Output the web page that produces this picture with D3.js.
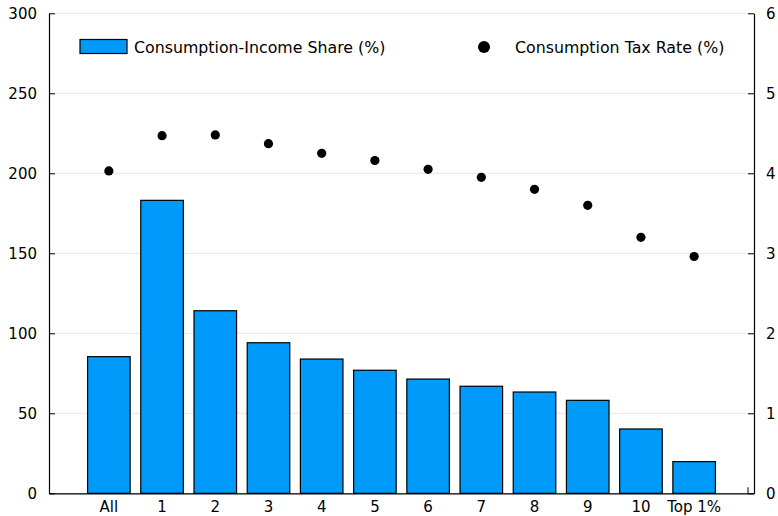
<!DOCTYPE html>
<html>
<head>
<meta charset="utf-8">
<script src="https://cdn.jsdelivr.net/npm/d3@7"></script>
<style>
  body { margin: 0; background: #fff; }
  text { font-family: 'DejaVu Sans', sans-serif; }
</style>
</head>
<body>
<div id="chart"></div>
<script>
var groups = ['All', '1', '2', '3', '4', '5', '6', '7', '8', '9', '10', 'Top 1%']
var shareValues = [85.4, 183.1, 114.1, 94.1, 83.9, 76.9, 71.4, 66.9, 63.3, 58.1, 40.2, 19.8]
var taxValues = [4.03, 4.47, 4.48, 4.37, 4.25, 4.16, 4.05, 3.95, 3.8, 3.6, 3.2, 2.96]
var leftTicks = [0, 50, 100, 150, 200, 250, 300]
var rightTicks = [0, 1, 2, 3, 4, 5, 6]

var width = 778
var height = 516
var margin = { top: 13.3, left: 49, right: 24, bottom: 22.7 }

var svg = d3
  .select('#chart')
  .append('svg')
  .attr('width', width)
  .attr('height', height)

var x0 = margin.left
var x1 = width - margin.right
var yTop = margin.top
var yBottom = height - margin.bottom

var xScale = d3
  .scaleBand()
  .domain(groups)
  .range([x0, x1])
  .paddingInner(0.2)
  .paddingOuter(0.725)

var yLeft = d3.scaleLinear().domain([0, 300]).range([yBottom, yTop])
var yRight = d3.scaleLinear().domain([0, 6]).range([yBottom, yTop])

// grid lines
svg
  .selectAll('.grid')
  .data(leftTicks)
  .enter()
  .append('line')
  .attr('class', 'grid')
  .attr('x1', x0)
  .attr('x2', x1)
  .attr('y1', d => yLeft(d))
  .attr('y2', d => yLeft(d))
  .attr('stroke', '#000')
  .attr('stroke-opacity', 0.1)
  .attr('stroke-width', 1)

// bars
svg
  .selectAll('.bar')
  .data(shareValues)
  .enter()
  .append('rect')
  .attr('class', 'bar')
  .attr('x', (d, i) => xScale(groups[i]))
  .attr('width', xScale.bandwidth())
  .attr('y', d => yLeft(d))
  .attr('height', d => yLeft(0) - yLeft(d))
  .attr('fill', '#009afa')
  .attr('stroke', '#000')
  .attr('stroke-width', 1.2)

// dots
svg
  .selectAll('.dot')
  .data(taxValues)
  .enter()
  .append('circle')
  .attr('class', 'dot')
  .attr('cx', (d, i) => xScale(groups[i]) + xScale.bandwidth() / 2)
  .attr('cy', d => yRight(d))
  .attr('r', 4.6)
  .attr('fill', '#000')

// axes
var leftAxis = d3
  .axisLeft(yLeft)
  .tickValues(leftTicks)
  .tickFormat(d3.format('d'))
  .tickSizeInner(-6)
  .tickSizeOuter(0)
  .tickPadding(12)

var rightAxis = d3
  .axisRight(yRight)
  .tickValues(rightTicks)
  .tickFormat(d3.format('d'))
  .tickSizeInner(-6)
  .tickSizeOuter(0)
  .tickPadding(12)

var bottomAxis = d3
  .axisBottom(xScale)
  .tickSize(0)
  .tickPadding(8)

var gLeft = svg
  .append('g')
  .attr('transform', 'translate(' + x0 + ',0)')
  .call(leftAxis)

var gRight = svg
  .append('g')
  .attr('transform', 'translate(' + x1 + ',0)')
  .call(rightAxis)

var gBottom = svg
  .append('g')
  .attr('transform', 'translate(0,' + yBottom + ')')
  .call(bottomAxis)

;[gLeft, gRight, gBottom].forEach(g => {
  g.selectAll('text')
    .attr('font-family', "'DejaVu Sans', sans-serif")
    .attr('font-size', 15)
    .attr('fill', '#000')
  g.selectAll('line').attr('stroke', '#000').attr('stroke-width', 1)
  g.select('.domain').attr('stroke', '#000').attr('stroke-width', 1.2)
})

gLeft.selectAll('text').attr('dy', '0.36em')
gRight.selectAll('text').attr('dy', '0.36em')

// little end mark on x axis
svg
  .append('line')
  .attr('x1', x1 - 6)
  .attr('x2', x1 - 6)
  .attr('y1', yBottom)
  .attr('y2', yBottom - 6)
  .attr('stroke', '#000')

// legend
var legend = svg.append('g')

legend
  .append('rect')
  .attr('x', 80)
  .attr('y', 39.5)
  .attr('width', 47)
  .attr('height', 14)
  .attr('fill', '#009afa')
  .attr('stroke', '#000')
  .attr('stroke-width', 1.2)

legend
  .append('text')
  .attr('x', 134)
  .attr('y', 52.5)
  .attr('font-size', 15.8)
  .text('Consumption-Income Share (%)')

legend
  .append('circle')
  .attr('cx', 484)
  .attr('cy', 47)
  .attr('r', 6)
  .attr('fill', '#000')

legend
  .append('text')
  .attr('x', 515)
  .attr('y', 52.5)
  .attr('font-size', 15.8)
  .text('Consumption Tax Rate (%)')
</script>
</body>
</html>
